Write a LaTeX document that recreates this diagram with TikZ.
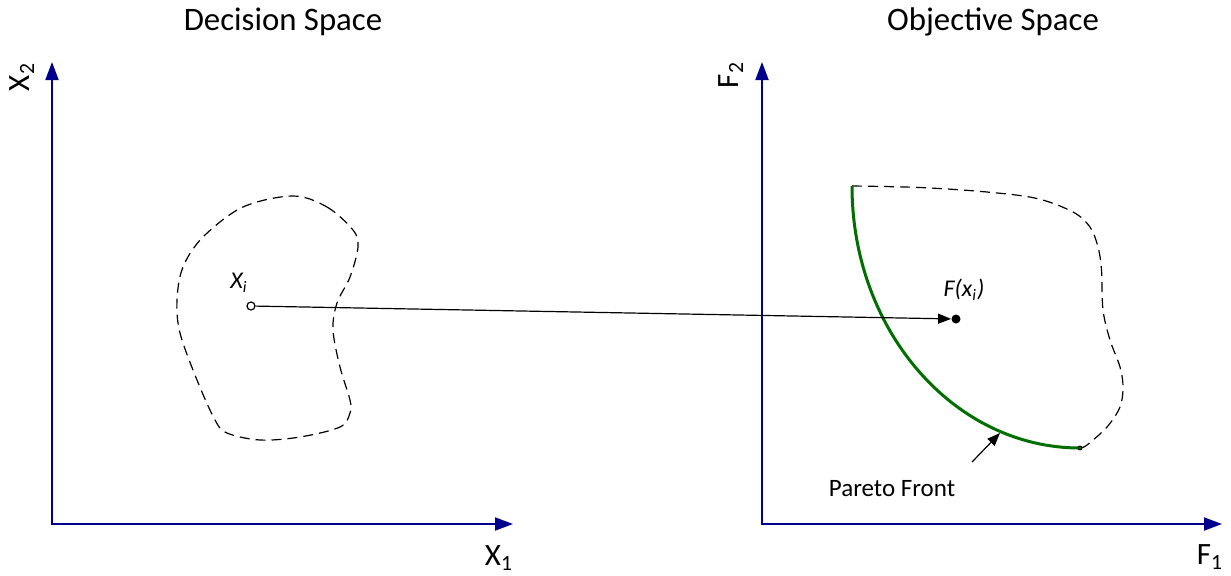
\documentclass[tikz,border=0pt]{standalone}
\usepackage{fontspec}
\setmainfont{Carlito}
\usetikzlibrary{arrows.meta}
\definecolor{axisblue}{RGB}{0,0,140}
\definecolor{pgreen}{RGB}{0,110,0}
\begin{document}
\begin{tikzpicture}[x=0.5pt,y=-0.5pt,
  axis/.style={draw=axisblue, line width=1pt,
    {Triangle[length=9pt,width=6.5pt]}-{Triangle[length=9pt,width=6.5pt]}},
  region/.style={draw=black, line width=0.6pt, dash pattern=on 5pt off 3pt},
  front/.style={draw=pgreen, line width=1.5pt},
  maplink/.style={draw=black, line width=0.6pt, -{Triangle[length=6.5pt,width=5pt]}},
  title/.style={font=\fontsize{16.4}{19}\selectfont, inner sep=0pt},
  axlabel/.style={font=\fontsize{15.5}{18}\selectfont, inner sep=0pt},
  ptlabel/.style={font=\fontsize{12}{14}\selectfont\itshape, inner sep=0pt},
  smalllabel/.style={font=\fontsize{12.5}{15}\selectfont, inner sep=0pt}]
\useasboundingbox (0,0) rectangle (1231,575);

% titles
\node[title] (t1) at (283,22) {Decision Space};
\node[title] (t2) at (993,22) {Objective Space};

% axes
\coordinate (o1) at (52,524);
\coordinate (x1end) at (513,524);
\coordinate (x2end) at (52,62);
\coordinate (o2) at (762,524);
\coordinate (f1end) at (1222,524);
\coordinate (f2end) at (762,62);
\draw[axis] (x2end) -- (o1) -- (x1end);
\draw[axis] (f2end) -- (o2) -- (f1end);

\node[axlabel] (lx1) at (499,558) {X\textsubscript{1}};
\node[axlabel, rotate=90] (lx2) at (22,77) {X\textsubscript{2}};
\node[axlabel] (lf1) at (1210,557) {F\textsubscript{1}};
\node[axlabel, rotate=90] (lf2) at (731,75) {F\textsubscript{2}};

% decision region
\draw[region] plot[smooth cycle, tension=0.55] coordinates {
  (293,196) (327,207) (353,230) (358,247) (350,277) (337,303) (333,330)
  (340,367) (350,400) (350,413) (340,427) (300,437) (260,440) (227,433)
  (215,420) (197,380) (180,333) (177,300) (183,267) (203,237) (243,207)};

% objective region
\coordinate (ps) at (852,186);
\coordinate (pe) at (1080,448);
\draw[region] plot[smooth, tension=0.55] coordinates {
  (852,186) (920,187.5) (987,192) (1037,198.5) (1073,212) (1090,227) (1098,247)
  (1101.5,270) (1103,310) (1110,340) (1120,367) (1123,387) (1120,407)
  (1107,427) (1087,445) (1080,448)};
\draw[front] (ps) arc[start angle=180, end angle=90, x radius=228, y radius=262];
\node[circle, draw=black, fill=pgreen, line width=0.4pt, inner sep=0pt, minimum size=2pt] (pend) at (pe) {};

% mapping
\node[circle, draw=black, fill=white, line width=0.6pt, inner sep=0pt, minimum size=4pt] (xi) at (251,306) {};
\node[circle, fill=black, inner sep=0pt, minimum size=4.5pt] (fxi) at (956,319) {};
\draw[maplink] (xi) -- (fxi);
\node[ptlabel] (lxi) at (239,283) {X\textsubscript{i}};
\node[font=\fontsize{12}{14}\selectfont\itshape, inner sep=0pt] (lfxi) at (964,290) {F(x\textsubscript{i})};

% pareto front label
\node[smalllabel] (lpf) at (892,489) {Pareto Front};
\coordinate (pa) at (972,462);
\coordinate (pt) at (1000,433);
\draw[maplink] (pa) -- (pt);
\end{tikzpicture}
\end{document}
